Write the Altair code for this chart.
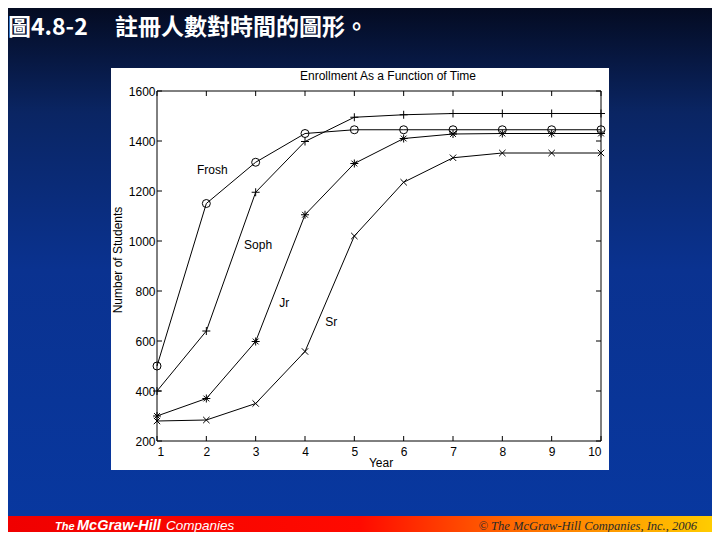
import altair as alt
import pandas as pd

# ---- data ----
years = [1, 2, 3, 4, 5, 6, 7, 8, 9, 10]
frosh = [500, 1150, 1315, 1430, 1445, 1445, 1445, 1445, 1445, 1445]
soph = [400, 640, 1195, 1398, 1495, 1505, 1510, 1510, 1510, 1510]
junior = [300, 370, 598, 1105, 1310, 1410, 1428, 1430, 1430, 1430]
senior = [280, 284, 350, 558, 1020, 1235, 1333, 1352, 1352, 1352]
series_names = ["Frosh", "Soph", "Jr", "Sr"]
x_ticks = [1, 2, 3, 4, 5, 6, 7, 8, 9, 10]
y_ticks = [200, 400, 600, 800, 1000, 1200, 1400, 1600]
label_names = ["Frosh", "Soph", "Jr", "Sr"]
label_x = [2.12, 3.05, 3.58, 4.53]
label_y = [1284, 984, 752, 676]

rows = []
for name, vals in zip(series_names, [frosh, soph, junior, senior]):
    for yr, v in zip(years, vals):
        rows.append({"Year": yr, "Students": v, "Class": name})
df = pd.DataFrame(rows)
df_labels = pd.DataFrame({"name": label_names, "Year": label_x, "Students": label_y})
df_xt = pd.DataFrame({"Year": x_ticks})
df_yt = pd.DataFrame({"Students": y_ticks})

W, H = 444, 350
PAD_L, PAD_T = 149, 83
TOT_W, TOT_H = 704, 524

xs = alt.Scale(domain=[1, 10], nice=False)
ys = alt.Scale(domain=[200, 1600], nice=False)

one = pd.DataFrame({"a": [0]})

# page coordinate -> plot coordinate helpers
def px(x):
    return x - 157

def py(y):
    return y - 91

bg = alt.Chart(one).mark_rect(
    color=alt.Gradient(
        gradient="linear",
        stops=[
            alt.GradientStop(color="#040b22", offset=0),
            alt.GradientStop(color="#0a2563", offset=0.2),
            alt.GradientStop(color="#0a3290", offset=0.5),
            alt.GradientStop(color="#0838a0", offset=1),
        ],
        x1=0, x2=0, y1=0, y2=1,
    )
).encode(x=alt.value(-PAD_L), x2=alt.value(TOT_W - PAD_L),
         y=alt.value(-PAD_T), y2=alt.value(TOT_H - PAD_T))

bar = alt.Chart(one).mark_rect(
    color=alt.Gradient(
        gradient="linear",
        stops=[
            alt.GradientStop(color="#f00000", offset=0),
            alt.GradientStop(color="#ff0a00", offset=0.5),
            alt.GradientStop(color="#ff6a00", offset=0.72),
            alt.GradientStop(color="#ffcc00", offset=1),
        ],
        x1=0, x2=1, y1=0, y2=0,
    )
).encode(x=alt.value(-PAD_L), x2=alt.value(TOT_W - PAD_L),
         y=alt.value(py(516)), y2=alt.value(TOT_H - PAD_T))

panel = alt.Chart(one).mark_rect(color="white").encode(
    x=alt.value(px(111)), x2=alt.value(px(609)),
    y=alt.value(py(68)), y2=alt.value(py(470)))

def txt(text, x, y, **kw):
    return alt.Chart(one).mark_text(text=text, **kw).encode(x=alt.value(px(x)), y=alt.value(py(y)))

head1 = txt("圖4.8-2", 8, 35, font="Noto Sans CJK TC", fontSize=23,
            fontWeight="bold", color="white", align="left", baseline="alphabetic")
head2 = txt("註冊人數對時間的圖形。", 115, 35, font="Noto Sans CJK TC", fontSize=23,
            fontWeight="bold", color="white", align="left", baseline="alphabetic")

ctitle = txt("Enrollment As a Function of Time", 388, 76, font="Liberation Sans",
             fontSize=12, color="black", align="center", baseline="middle")
ytitle = txt("Number of Students", 118, 260, font="Liberation Sans",
             fontSize=12, color="black", align="center", baseline="middle", angle=270)
xtitle = txt("Year", 381, 463, font="Liberation Sans",
             fontSize=12, color="black", align="center", baseline="middle")

mh1 = txt("The", 55, 530, font="Liberation Sans", fontSize=11, fontWeight="bold",
          fontStyle="italic", color="white", align="left", baseline="alphabetic")
mh2 = txt("McGraw-Hill", 77, 530, font="Liberation Sans", fontSize=14.5, fontWeight="bold",
          fontStyle="italic", color="white", align="left", baseline="alphabetic")
mh3 = txt("Companies", 166, 530, font="Liberation Sans", fontSize=13.5,
          fontStyle="italic", color="white", align="left", baseline="alphabetic")
copy = txt("© The McGraw-Hill Companies, Inc., 2006", 697, 530, font="Liberation Serif",
           fontSize=12.5, fontStyle="italic", color="#2a2a2a", align="right", baseline="alphabetic")

base = alt.Chart(df)

axes = base.mark_point(opacity=0).encode(
    x=alt.X("Year:Q", scale=xs, axis=alt.Axis(values=x_ticks, title=None, grid=False, domain=False,
                                              ticks=False, labelPadding=5, labelFont="Liberation Sans",
                                              labelFontSize=12, labelColor="black", format="d", zindex=1)),
    y=alt.Y("Students:Q", scale=ys, axis=alt.Axis(values=y_ticks, title=None, grid=False, domain=False,
                                                  ticks=False, labelPadding=2, labelFont="Liberation Sans",
                                                  labelFontSize=12, labelColor="black", format="d", zindex=1)),
)

lines = base.mark_line(color="black", strokeWidth=1).encode(
    x=alt.X("Year:Q", scale=xs), y=alt.Y("Students:Q", scale=ys), detail="Class:N")

shape_paths = [
    "circle",
    "M-1,0H1M0,-1V1",
    "M-1,0H1M0,-1V1M-0.72,-0.72L0.72,0.72M-0.72,0.72L0.72,-0.72",
    "M-0.8,-0.8L0.8,0.8M-0.8,0.8L0.8,-0.8",
]
points = base.mark_point(filled=False, color="black", strokeWidth=1, size=64, opacity=1).encode(
    x=alt.X("Year:Q", scale=xs), y=alt.Y("Students:Q", scale=ys),
    shape=alt.Shape("Class:N", scale=alt.Scale(domain=series_names, range=shape_paths), legend=None))

labels = alt.Chart(df_labels).mark_text(font="Liberation Sans", fontSize=12, color="black").encode(
    x=alt.X("Year:Q", scale=xs), y=alt.Y("Students:Q", scale=ys), text="name:N")

xt_bot = alt.Chart(df_xt).mark_rule(color="black", strokeWidth=1).encode(
    x=alt.X("Year:Q", scale=xs), y=alt.value(H), y2=alt.value(H - 5))
xt_top = alt.Chart(df_xt).mark_rule(color="black", strokeWidth=1).encode(
    x=alt.X("Year:Q", scale=xs), y=alt.value(0), y2=alt.value(5))
yt_l = alt.Chart(df_yt).mark_rule(color="black", strokeWidth=1).encode(
    y=alt.Y("Students:Q", scale=ys), x=alt.value(0), x2=alt.value(5))
yt_r = alt.Chart(df_yt).mark_rule(color="black", strokeWidth=1).encode(
    y=alt.Y("Students:Q", scale=ys), x=alt.value(W), x2=alt.value(W - 5))

frame = alt.Chart(one).mark_rect(filled=False, stroke="black", strokeWidth=1).encode(
    x=alt.value(0), x2=alt.value(W), y=alt.value(0), y2=alt.value(H))

chart = alt.layer(
    bg, bar, panel, head1, head2, mh1, mh2, mh3, copy,
    axes, ctitle, ytitle, xtitle, frame, xt_bot, xt_top, yt_l, yt_r,
    lines, points, labels,
).properties(
    width=W, height=H,
    autosize=alt.AutoSizeParams(type="none"),
    padding={"left": PAD_L, "top": PAD_T, "right": TOT_W - PAD_L - W, "bottom": TOT_H - PAD_T - H},
).configure_view(stroke=None).configure(background="#0838a0")

chart.save("out.html", embed_options={"renderer": "svg", "actions": False})
